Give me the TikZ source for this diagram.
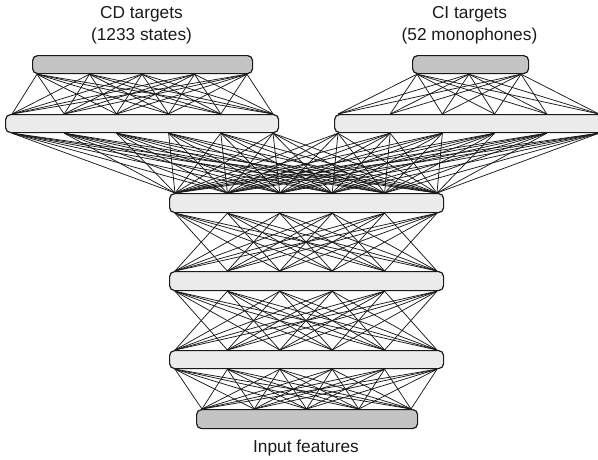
\documentclass[tikz,border=0pt]{standalone}
\usepackage{fontspec}
\setmainfont{Liberation Sans}
\usetikzlibrary{calc,backgrounds}
\definecolor{edge}{HTML}{1A1A1A}
\definecolor{hidfill}{HTML}{EBEBEB}
\definecolor{outfill}{HTML}{C4C4C4}
\tikzset{
  layer/.style={draw=edge, line width=1.2pt, rounded corners=5pt, inner sep=0pt,
    minimum height=18pt, anchor=north west, fill=hidfill},
  outlayer/.style={layer, fill=outfill},
  link/.style={draw=edge, line width=0.75pt},
  caption/.style={font=\fontsize{17.3}{21.5}\selectfont, text=edge, inner sep=0pt, anchor=base}
}
\begin{document}
\begin{tikzpicture}[x=1pt,y=-1pt]
\useasboundingbox (0,0) rectangle (598,459);
\clip (0,0) rectangle (598,459);

% layers (top-left corner given in picture coordinates)
\node[outlayer, minimum width=220pt] (cdout) at (32,55) {};
\node[outlayer, minimum width=116pt] (ciout) at (412,55) {};
\node[layer, minimum width=273pt] (cdhid) at (5,114) {};
\node[layer, minimum width=273pt] (cihid) at (334,114) {};
\node[layer, minimum width=274pt, minimum height=19pt] (h1) at (169,193) {};
\node[layer, minimum width=274pt, minimum height=19pt] (h2) at (169,271) {};
\node[layer, minimum width=274pt] (h3) at (169,350) {};
\node[outlayer, minimum width=221pt, minimum height=19pt] (inp) at (196,409) {};

% unit positions along the top (t) and bottom (b) edge of each layer
\foreach \i in {0,...,4} \coordinate (cdout-b\i) at ($(cdout.south west)+(5+52.5*\i,0)$);
\foreach \i in {0,...,2} \coordinate (ciout-b\i) at ($(ciout.south west)+(5+52*\i,0)$);
\foreach \i in {0,...,5} {
  \coordinate (cdhid-t\i) at ($(cdhid.north west)+(7+52.2*\i,0)$);
  \coordinate (cdhid-b\i) at ($(cdhid.south west)+(7+52.2*\i,0)$);
  \coordinate (cihid-t\i) at ($(cihid.north west)+(4+52.2*\i,0)$);
  \coordinate (cihid-b\i) at ($(cihid.south west)+(4+52.2*\i,0)$);
  \foreach \h in {h1,h2,h3} {
    \coordinate (\h-t\i) at ($(\h.north west)+(6+52.4*\i,0)$);
    \coordinate (\h-b\i) at ($(\h.south west)+(6+52.4*\i,0)$);
  }
}
\foreach \i in {0,...,4} \coordinate (inp-t\i) at ($(inp.north west)+(6+52.25*\i,0)$);

% connections between neighbouring layers
% (between the stacked shared layers a unit has no link to the unit straight below it)
\begin{scope}[on background layer]
  \foreach \i in {0,...,4} \foreach \j in {0,...,5} \draw[link] (cdout-b\i) -- (cdhid-t\j);
  \foreach \i in {0,...,2} \foreach \j in {0,...,5} \draw[link] (ciout-b\i) -- (cihid-t\j);
  \foreach \i in {0,...,5} \foreach \j in {0,...,5} {
    \draw[link] (cdhid-b\i) -- (h1-t\j);
    \draw[link] (cihid-b\i) -- (h1-t\j);
    \ifnum\i=\j\relax\else
      \draw[link] (h1-b\i) -- (h2-t\j);
      \draw[link] (h2-b\i) -- (h3-t\j);
    \fi
  }
  \foreach \i in {0,...,5} \foreach \j in {0,...,4} \draw[link] (h3-b\i) -- (inp-t\j);
\end{scope}

% captions
\node[caption] (cdtitle) at (141.5,18.3) {CD targets};
\node[caption] (cdcount) at (141.5,40.7) {(1233 states)};
\node[caption] (cititle) at (469.5,18.3) {CI targets};
\node[caption] (cicount) at (469.5,40.7) {(52 monophones)};
\node[caption] (inlabel) at (306,452.7) {Input features};
\end{tikzpicture}
\end{document}
